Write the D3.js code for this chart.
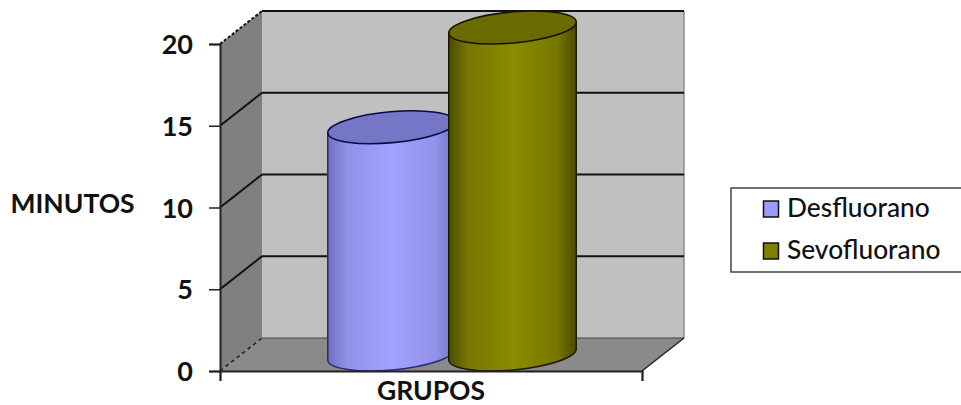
<!DOCTYPE html>
<html>
<head>
<meta charset="utf-8">
<script src="https://cdn.jsdelivr.net/npm/d3@7/dist/d3.min.js"></script>
<style>
html, body { margin: 0; padding: 0; background: #fff; overflow: hidden; }
svg { display: block; }
text { font-family: Lato, "Open Sans", sans-serif; fill: #111; }
</style>
</head>
<body>
<svg id="chart" width="961" height="405"></svg>
<script>
// Chart content
const seriesNames = ["Desfluorano", "Sevofluorano"];
const seriesValues = [13.9, 20];
const categoryLabel = "GRUPOS";
const valueLabel = "MINUTOS";
const valueTicks = [0, 5, 10, 15, 20];

// Palette per series: body edge, body centre, top cap
const bodyEdge = ["#7070c0", "#4c4c00"];
const bodyMid = ["#a2a2ff", "#8c8c00"];
const capFill = ["#7676c8", "#6a6a00"];
const swatchFill = ["#9c9cff", "#808000"];

// Layout of the 3D box
const plotLeft = 220, plotRight = 642, plotBase = 371, plotTop = 44;
const depthX = 42, depthY = -33;

const y = d3.scaleLinear().domain([0, 20]).range([plotBase, plotTop]);
const x = d3.scaleBand().domain(seriesNames).range([plotLeft, plotRight]).paddingInner(0).paddingOuter(0.744);

const svg = d3.select("#chart");
const defs = svg.append("defs");

seriesNames.forEach((name, i) => {
  const g = defs.append("linearGradient").attr("id", "body" + i);
  [[0, bodyEdge[i]], [0.15, d3.interpolateRgb(bodyEdge[i], bodyMid[i])(0.65)], [0.5, bodyMid[i]],
   [0.85, d3.interpolateRgb(bodyEdge[i], bodyMid[i])(0.65)], [1, bodyEdge[i]]]
    .forEach(([o, c]) => g.append("stop").attr("offset", o).attr("stop-color", c));
});

// Walls and floor
const poly = pts => "M" + pts.map(p => p.join(",")).join("L") + "Z";
const wallTop = y(20), wallBase = y(0);
svg.append("path").attr("fill", "#c0c0c0")
  .attr("d", poly([[plotLeft + depthX, wallTop + depthY], [plotRight + depthX, wallTop + depthY],
                   [plotRight + depthX, wallBase + depthY], [plotLeft + depthX, wallBase + depthY]]));
svg.append("path").attr("fill", "#808080")
  .attr("d", poly([[plotLeft, wallTop], [plotLeft + depthX, wallTop + depthY],
                   [plotLeft + depthX, wallBase + depthY], [plotLeft, wallBase]]));
svg.append("path").attr("fill", "#8a8a8a")
  .attr("d", poly([[plotLeft, wallBase], [plotLeft + depthX, wallBase + depthY],
                   [plotRight + depthX, wallBase + depthY], [plotRight, wallBase]]));

// Outer edges of the back wall
svg.append("path").attr("fill", "none").attr("stroke", "#8c8c8c").attr("stroke-width", 1.5)
  .attr("d", `M${plotRight + depthX},${wallTop + depthY}V${wallBase + depthY}`);
svg.append("path").attr("fill", "none").attr("stroke", "#444").attr("stroke-width", 1)
  .attr("d", `M${plotLeft + depthX},${wallBase + depthY}H${plotRight + depthX}`);

// Gridlines across side and back walls
valueTicks.filter(v => v > 0).forEach(v => {
  const gy = y(v);
  svg.append("path").attr("fill", "none").attr("stroke", "#111").attr("stroke-width", 2)
    .attr("d", `M${plotLeft + depthX},${gy + depthY}H${plotRight + depthX}`);
  svg.append("path").attr("fill", "none").attr("stroke", "#111").attr("stroke-width", 2)
    .attr("stroke-dasharray", v === 20 ? "3,2" : null)
    .attr("d", `M${plotLeft},${gy}L${plotLeft + depthX},${gy + depthY}`);
});
svg.append("path").attr("fill", "none").attr("stroke", "#222").attr("stroke-width", 1.5)
  .attr("stroke-dasharray", "4,3")
  .attr("d", `M${plotLeft},${wallBase}L${plotLeft + depthX},${wallBase + depthY}`);
svg.append("path").attr("fill", "none").attr("stroke", "#222").attr("stroke-width", 1.5)
  .attr("d", `M${plotRight},${wallBase}L${plotRight + depthX},${wallBase + depthY}`);

// Cylinders, each standing at mid depth of the floor
const rx = 64, ry = 15.5, tilt = -5.2;
const tiltRad = tilt * Math.PI / 180;
const endDx = rx * Math.cos(tiltRad), endDy = rx * Math.sin(tiltRad);

seriesNames.forEach((name, i) => {
  const cx = x(name) + x.bandwidth() / 2 + depthX / 2;
  const yTop = y(seriesValues[i]) + depthY / 2;
  const yBase = y(0) + depthY / 2;
  const g = svg.append("g");
  const arc = `A${rx},${ry} ${tilt} 0 0`;
  g.append("path")
    .attr("fill", `url(#body${i})`)
    .attr("d", `M${cx - endDx},${yTop - endDy}L${cx - endDx},${yBase - endDy}${arc} ${cx + endDx},${yBase + endDy}L${cx + endDx},${yTop + endDy}Z`);
  g.append("path").attr("fill", "none").attr("stroke", i ? "#1a1a00" : "#2a2a70").attr("stroke-width", 1.5)
    .attr("d", `M${cx - endDx},${yTop - endDy}L${cx - endDx},${yBase - endDy}${arc} ${cx + endDx},${yBase + endDy}L${cx + endDx},${yTop + endDy}`);
  g.append("ellipse")
    .attr("cx", cx).attr("cy", yTop).attr("rx", rx).attr("ry", ry)
    .attr("transform", `rotate(${tilt} ${cx} ${yTop})`)
    .attr("fill", capFill[i]).attr("stroke", i ? "#141400" : "#0a0a40").attr("stroke-width", 1.6);
});

// Value axis
const yAxis = d3.axisLeft(y).tickValues(valueTicks).tickSize(11).tickPadding(16);
const yG = svg.append("g").attr("transform", `translate(${plotLeft},0)`).call(yAxis);
yG.select(".domain").attr("stroke", "#222").attr("stroke-width", 2);
yG.selectAll(".tick line").attr("stroke", "#222").attr("stroke-width", 1.5);
yG.selectAll(".tick text")
  .attr("y", 1)
  .style("font-size", "27px").style("font-weight", 700).style("font-family", "Lato, sans-serif").attr("fill", "#111");

// Category axis: baseline with an end tick on each side
const xAxis = d3.axisBottom(d3.scaleLinear().domain([0, 1]).range([plotLeft, plotRight])).tickValues([0, 1]).tickSize(10).tickFormat("");
const xG = svg.append("g").attr("transform", `translate(0,${plotBase})`).call(xAxis);
xG.select(".domain").attr("stroke", "#222").attr("stroke-width", 2);
xG.selectAll(".tick line").attr("stroke", "#222").attr("stroke-width", 1.5);

svg.append("text").attr("x", 431).attr("y", 400).attr("text-anchor", "middle")
  .style("font-size", "26.5px").style("font-weight", 700).text(categoryLabel);
svg.append("text").attr("x", 72.5).attr("y", 213).attr("text-anchor", "middle")
  .style("font-size", "26.5px").style("font-weight", 700).text(valueLabel);

// Legend: the frame runs off the right edge of the page
const legend = svg.append("g");
legend.append("rect").attr("x", 731).attr("y", 188).attr("width", 240).attr("height", 84)
  .attr("fill", "#fff").attr("stroke", "#444").attr("stroke-width", 1.5);
const legendRow = d3.scalePoint().domain(seriesNames).range([209, 251]);
seriesNames.forEach((name, i) => {
  legend.append("rect").attr("x", 763.5).attr("y", legendRow(name) - 8).attr("width", 15).attr("height", 16)
    .attr("fill", swatchFill[i]).attr("stroke", "#111").attr("stroke-width", 1.5);
  legend.append("text").attr("x", 787).attr("y", legendRow(name) + 8)
    .style("font-size", "26.3px").style("font-weight", 500).text(name);
});
</script>
</body>
</html>
